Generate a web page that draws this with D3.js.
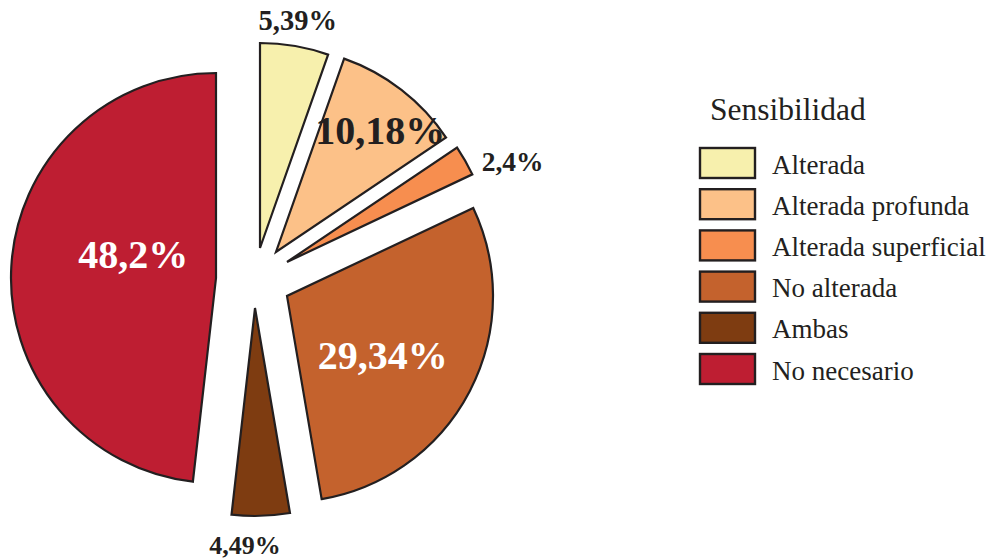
<!DOCTYPE html>
<html>
<head>
<meta charset="utf-8">
<script src="https://cdn.jsdelivr.net/npm/d3@7"></script>
<style>
  html, body { margin: 0; padding: 0; background: #fff; }
  svg { display: block; font-family: 'Liberation Serif', 'Times New Roman', serif; }
</style>
</head>
<body>
<div id="chart"></div>
<script>
// data
const categories = ['Alterada', 'Alterada profunda', 'Alterada superficial', 'No alterada', 'Ambas', 'No necesario'];
const values = [5.39, 10.18, 2.4, 29.34, 4.49, 48.2];
const colors = ['#f7f0ad', '#fcc188', '#f78e4f', '#c4622d', '#7e3c11', '#be1e32'];
const legendTitle = 'Sensibilidad';

// layout
const width = 988;
const height = 560;
const center = [252, 282];
// each slice was dragged out by hand in the original, so offsets are per slice
const explode = [[8, -34], [24, -30], [35, -20], [35, 14], [3, 26], [-36, -4]];
const radii = [205, 205, 205, 206, 208, 205];
// label placement relative to the slice tip: angle (deg from top) and distance
const labelPolar = [[9.4, 231], [40.7, 160], [66, 247], [122, 113], [182.4, 237], [286, 86]];
const labelSize = [28.5, 40, 27.5, 40, 26, 40];
const labelColor = ['#231f20', '#231f20', '#231f20', '#fff', '#231f20', '#fff'];
const stroke = '#231f20';

const svg = d3.select('#chart').append('svg')
  .attr('width', width)
  .attr('height', height);

const pie = d3.pie().sort(null).value(d => d);
const arcs = pie(values);

const slice = svg.append('g').selectAll('g')
  .data(arcs)
  .join('g')
  .attr('transform', (d, i) => 'translate(' + (center[0] + explode[i][0]) + ',' + (center[1] + explode[i][1]) + ')');

slice.append('path')
  .attr('d', (d, i) => d3.arc().innerRadius(0).outerRadius(radii[i])(d))
  .attr('fill', (d, i) => colors[i])
  .attr('stroke', stroke)
  .attr('stroke-width', 2.2)
  .attr('stroke-linejoin', 'miter');

slice.append('text')
  .attr('x', (d, i) => labelPolar[i][1] * Math.sin(labelPolar[i][0] * Math.PI / 180))
  .attr('y', (d, i) => -labelPolar[i][1] * Math.cos(labelPolar[i][0] * Math.PI / 180) + labelSize[i] * 0.34)
  .attr('text-anchor', 'middle')
  .attr('font-weight', 'bold')
  .attr('font-size', (d, i) => labelSize[i])
  .attr('fill', (d, i) => labelColor[i])
  .text(d => String(d.data).replace('.', ',') + '%');

// legend
const legend = svg.append('g').attr('transform', 'translate(700,0)');

legend.append('text')
  .attr('x', 10)
  .attr('y', 120)
  .attr('font-size', 31.5)
  .attr('fill', '#231f20')
  .text(legendTitle);

const item = legend.selectAll('g.item')
  .data(categories)
  .join('g')
  .attr('class', 'item')
  .attr('transform', (d, i) => 'translate(0,' + (148 + i * 41.2) + ')');

item.append('rect')
  .attr('width', 55)
  .attr('height', 30)
  .attr('fill', (d, i) => colors[i])
  .attr('stroke', stroke)
  .attr('stroke-width', 2.4);

item.append('text')
  .attr('x', 72)
  .attr('y', 25.5)
  .attr('font-size', 27)
  .attr('fill', '#231f20')
  .text(d => d);
</script>
</body>
</html>
